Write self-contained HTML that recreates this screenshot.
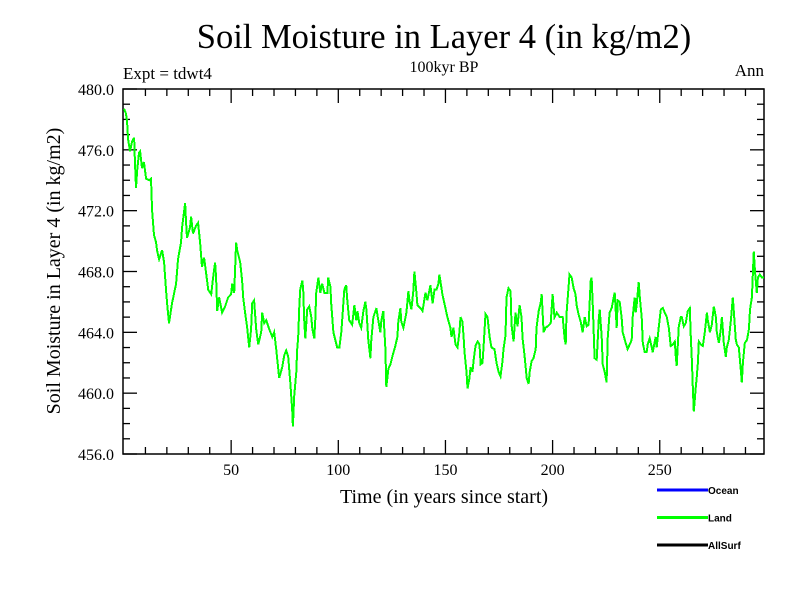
<!DOCTYPE html>
<html><head><meta charset="utf-8"><style>
body{margin:0;background:#fff;}
svg text{font-family:"Liberation Serif",serif;}
</style></head><body>
<svg id="chart" width="800" height="600" viewBox="0 0 800 600" xmlns="http://www.w3.org/2000/svg">
<rect width="800" height="600" fill="#fff"/>
<text x="444" y="48" font-size="34.5" text-anchor="middle">Soil Moisture in Layer 4 (in kg/m2)</text>
<text x="444" y="72" font-size="16" text-anchor="middle">100kyr BP</text>
<text x="123" y="79" font-size="17">Expt = tdwt4</text>
<text x="764" y="76" font-size="17" text-anchor="end">Ann</text>
<text transform="translate(60,271) rotate(-90)" font-size="20" text-anchor="middle">Soil Moisture in Layer 4 (in kg/m2)</text>
<text x="444" y="503" font-size="20" text-anchor="middle">Time (in years since start)</text>
<g id="axes"></g>
<g id="series"></g>
<g id="legend"></g>
</svg>
<script>
const yTickValues=[480,476,472,468,464,460,456];
const yTickLabels=["480.0","476.0","472.0","468.0","464.0","460.0","456.0"];
const xTickValues=[50,100,150,200,250];
const xTickLabels=["50","100","150","200","250"];
const legendNames=["Ocean","Land","AllSurf"];
const legendColors=["#0000ff","#00ff00","#000000"];

const years1=[0,0.9,1.4,1.9,2.8,3.7,4.7,5.1,5.6,6.1,7.0,7.5,8.4,9.3,10.3,11.7,12.6,13.1,14.0,15.0,15.4,16.4,17.8,18.7,19.6,20.1,21.0,22.4,24.3,25.2,26.6,27.1,28.5,29.0,29.4,30.8,31.3,32.2,33.6,34.6,35.5,36.4,37.4,38.3,39.3,40.7,41.6,42.5,43.0,43.5,44.4,45.8,47.2,48.6,50.0,50.5,51.4,52.3,52.8,54.2,55.1,55.6,56.5,57.5,58.4,59.3,59.8,60.7,61.7,62.6,64.0,64.5,65.4,66.4,67.8,69.2,70.1,71.0];
const land1=[478.7,478.4,477.9,476.7,475.9,476.5,476.8,475.3,473.5,474.6,475.8,475.9,474.8,475.2,474.1,474.0,474.1,472.0,470.4,469.9,469.4,468.8,469.4,468.6,466.8,465.9,464.6,465.9,467.2,468.8,469.9,470.9,472.5,471.2,470.2,470.9,471.6,470.5,471.0,471.2,469.9,468.3,468.9,467.9,466.8,466.5,467.6,468.6,467.6,465.4,466.3,465.3,465.7,466.3,466.5,467.2,466.6,469.9,469.4,468.6,467.4,466.3,465.3,464.3,463.0,464.2,465.9,466.1,464.2,463.2,464.0,465.3,464.6,464.8,464.2,463.7,464.0,462.9];
const years2=[72.4,73.8,74.8,75.7,76.6,77.6,78.5,78.8,79.4,80.4,80.8,81.3,81.8,82.2,83.2,83.6,84.1,84.6,85.5,86.4,87.4,87.9,88.8,89.3,89.7,90.7,91.6,92.5,93.5,94.9,95.3,96.3,96.7,97.7,98.6,99.5,100.5,101.4,101.9,102.8,103.7,104.2,105.1,106.5,107.5,108.4,108.9,109.8,110.7,111.7,112.6,113.1,114.0,115.0,115.4,116.4,117.8,118.2,119.6,120.1,121.0,122.0,122.4,123.4,124.3,125.2,126.6,127.6,128.0,129.0,129.4,130.4,131.8,132.7,133.2,134.1,135.0,135.5,136.4,136.9,138.3,139.3,140.7,141.6,143.0,144.0,144.9,145.8,146.7];
const land2=[461.0,461.7,462.5,462.8,462.4,460.7,458.9,457.8,459.8,461.4,462.9,463.7,465.7,466.8,467.4,466.8,464.8,463.6,465.5,465.7,465.0,464.2,463.6,465.0,466.6,467.6,466.6,467.2,466.6,466.6,467.6,467.0,465.9,464.0,463.5,463.0,463.0,464.0,465.0,466.8,467.1,466.1,464.8,464.5,465.8,464.8,465.4,464.6,464.3,465.4,466.0,465.5,463.5,462.3,463.5,465.0,465.6,465.2,464.0,464.8,465.4,462.9,460.4,461.6,461.9,462.4,463.1,463.7,464.7,465.6,464.7,464.3,465.3,466.7,466.1,465.5,466.7,468.0,466.7,465.8,465.6,465.4,466.6,466.1,467.1,465.9,466.8,466.8,467.2];
const years3=[147.2,148.6,150.0,150.9,152.3,152.8,153.7,154.7,155.6,156.5,157.0,157.9,158.4,158.9,159.8,160.3,161.2,161.7,162.6,163.1,164.0,165.0,165.9,166.4,167.3,167.8,168.7,169.6,170.6,171.5,172.9,173.8,174.8,175.7,176.6,177.1,178.0,178.5,179.4,180.4,180.8,181.8,182.7,183.6,184.6,185.5,186.0,186.9,187.9,188.8,189.3,190.2,191.1,192.1,192.5,193.5,194.4,194.9,195.8,196.7,197.7,199.1,200.0,200.5,200.9,201.9,203.3,204.7,205.6,206.1,206.5,207.5,207.9,208.9,209.8,210.7,211.2,212.1,213.1,214.0,214.5,215.0,215.9,216.8,217.8,218.2,218.7,219.6,220.6,221.0,221.5];
const land3=[467.8,466.5,465.6,465.0,464.3,463.7,464.3,463.2,463.0,464.0,465.0,464.7,463.8,462.7,461.4,460.3,461.0,461.7,461.4,462.1,463.1,463.4,463.2,461.9,462.0,463.1,465.2,465.0,463.7,463.0,462.9,462.0,461.4,461.1,462.1,462.9,463.8,466.3,466.9,466.7,464.5,463.4,465.3,464.4,465.8,465.0,463.6,462.5,461.0,460.6,461.4,462.1,462.3,462.9,464.3,465.4,465.9,466.5,464.0,464.3,464.4,464.6,466.5,465.6,465.0,465.3,465.0,465.0,463.6,463.2,465.2,467.1,467.8,467.6,466.9,466.5,465.8,465.2,464.7,464.0,464.5,465.0,464.4,464.5,467.4,467.6,465.9,462.3,462.2,463.3,464.8];
const years4=[222.0,222.9,223.4,224.3,225.2,225.7,226.6,227.6,228.5,229.0,229.9,230.4,231.3,232.2,232.7,234.1,235.0,236.0,236.9,237.4,238.3,238.8,239.3,240.2,240.7,241.6,242.1,243.0,243.9,244.4,245.3,246.3,246.7,248.1,248.6,249.5,250.5,251.4,252.3,253.3,254.2,255.1,256.1,257.0,257.5,257.9,258.9,259.8,260.3,261.2,262.1,263.1,264.0,264.5,265.0,265.4,265.9,266.8,267.3,267.8,268.2,269.2,270.1,271.0,272.0,272.4,273.4,274.3,275.2,276.2,276.6,277.6,278.5,279.0,279.9,280.8,281.3,282.2,283.2,284.1,284.6,285.5,286.0,286.9,287.9,288.3,288.8,289.7,290.7,291.6,292.1,293.0,293.5,293.9,294.4,295.3,295.8,296.7,297.7,298.7];
const land4=[465.5,463.7,461.9,461.4,460.7,463.6,465.3,465.6,466.3,466.6,464.3,466.1,466.0,465.0,464.0,463.3,462.9,463.2,463.5,465.0,466.3,465.3,465.9,467.3,466.3,465.0,463.3,462.7,462.7,463.2,463.6,463.0,462.7,463.7,463.0,464.3,465.5,465.6,465.3,465.0,464.3,463.1,463.2,463.4,462.4,461.8,464.4,465.0,465.0,464.4,464.6,465.4,465.6,463.7,462.1,460.4,458.8,460.4,461.1,462.0,463.4,463.2,463.1,464.0,465.3,464.8,464.0,464.5,465.7,465.0,464.0,463.3,464.2,465.0,463.3,462.4,463.0,463.5,464.8,466.3,465.3,463.5,463.2,463.0,461.4,460.7,462.0,463.3,463.5,464.2,465.5,466.3,468.1,469.3,468.1,466.6,467.6,467.8,467.6,467.6];

const NS="http://www.w3.org/2000/svg";
const L=123,R=764,T=89,B=454;
const X0=0,X1=298.7,Y0=456,Y1=480;
function xs(v){return 124+v*2.143;}
function ys(v){return B-(v-Y0)/(Y1-Y0)*(B-T);}
function mk(tag,attrs,parent){const e=document.createElementNS(NS,tag);for(const k in attrs)e.setAttribute(k,attrs[k]);parent.appendChild(e);return e;}

const axes=document.getElementById('axes');
const frame=mk('rect',{x:L,y:T,width:R-L,height:B-T,fill:'none',stroke:'#000','stroke-width':1.5},axes);


for(let v=Y0;v<=Y1;v+=1){
  const major=(v-Y0)%4===0;const len=major?14:7;const y=ys(v);
  const t1=mk('line',{x1:L,x2:L+len,y1:y,y2:y,stroke:'#000','stroke-width':1.3},axes);
  
  
  const t2=mk('line',{x1:R,x2:R-len,y1:y,y2:y,stroke:'#000','stroke-width':1.3},axes);
  
  
}
yTickValues.forEach((v,i)=>{
  const t=mk('text',{x:114,y:ys(v)+6,'font-size':16,'text-anchor':'end'},axes);
  t.textContent=yTickLabels[i];
  
  
});
for(let v=10;v<X1;v+=10){
  const major=v%50===0;const len=major?14:7;const x=xs(v);
  const t1=mk('line',{x1:x,x2:x,y1:B,y2:B-len,stroke:'#000','stroke-width':1.3},axes);
  
  
  const t2=mk('line',{x1:x,x2:x,y1:T,y2:T+len,stroke:'#000','stroke-width':1.3},axes);
  
  
}
xTickValues.forEach((v,i)=>{
  const t=mk('text',{x:xs(v),y:475,'font-size':16,'text-anchor':'middle'},axes);
  t.textContent=xTickLabels[i];
  
  
});

const years=[].concat(years1,years2,years3,years4);
const land=[].concat(land1,land2,land3,land4);
const n=Math.min(years.length,land.length);
let d='';
for(let i=0;i<n;i++){d+=(i?'L':'M')+xs(years[i]).toFixed(1)+','+ys(land[i]).toFixed(1);}
const series=document.getElementById('series');
const cp=mk('clipPath',{id:'clip'},series);
mk('rect',{x:L,y:T,width:R-L,height:B-T},cp);
const line=mk('path',{d:d,fill:'none',stroke:'#00ff00','stroke-width':2,'stroke-linejoin':'miter','shape-rendering':'crispEdges','clip-path':'url(#clip)'},series);



const legend=document.getElementById('legend');
legendNames.forEach((nm,i)=>{
  const y=490+i*27.5;
  const g=mk('g',{},legend);
  
  
  mk('line',{x1:657,x2:708,y1:y,y2:y,stroke:legendColors[i],'stroke-width':3},g);
  const t=mk('text',{x:708,y:y+4,'font-size':10,'font-weight':'bold',style:'font-family:"Liberation Sans",sans-serif'},g);
  t.textContent=nm;
});
</script>
</body></html>
